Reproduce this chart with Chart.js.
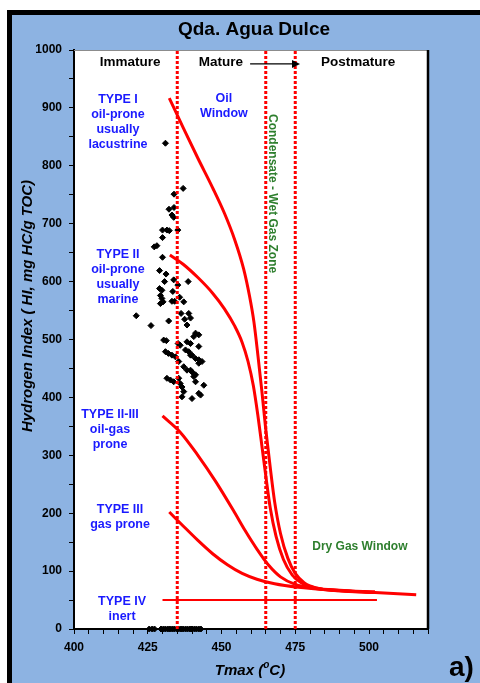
<!DOCTYPE html>
<html>
<head>
<meta charset="utf-8">
<script src="https://cdn.jsdelivr.net/npm/chart.js@4.4.1/dist/chart.umd.min.js"></script>
<style>
  html, body { margin: 0; padding: 0; background: #ffffff; }
  canvas { display: block; }
</style>
</head>
<body>
<canvas id="chart" width="480" height="683"></canvas>
<script>
const FONT = "'Liberation Sans', Arial, Helvetica, sans-serif";

// Axis ticks
const xTickLabels = [400, 425, 450, 475, 500];
const yTickLabels = [0, 100, 200, 300, 400, 500, 600, 700, 800, 900, 1000];

// Maturity boundaries (Tmax, °C)
const maturityLimits = [435, 465, 475];

// Kerogen type evolution paths: Tmax (°C) and HI (mg HC/g TOC)
const typeI_T   = [432.3, 437, 442, 447, 451, 454.5, 457.5, 459.5, 461, 462.4, 463.7, 465, 466.5, 468, 470, 472.5, 475, 478, 482, 490, 502, 516];
const typeI_HI  = [917, 866, 813, 762, 718, 672, 622, 575, 530, 470, 410, 345, 280, 220, 165, 122, 96, 80, 71, 66, 63, 59];
const typeII_T  = [432.5, 437, 442, 447, 451, 454.5, 457, 459, 460.8, 462.3, 463.6, 465, 466.5, 468.5, 471, 474, 477, 482, 490, 502];
const typeII_HI = [646, 630, 607, 580, 553, 523, 495, 462, 420, 370, 320, 265, 210, 160, 120, 93, 80, 71, 67, 64];
const typeIIIII_T  = [430, 436, 442, 448, 454, 458, 462, 466, 470, 475, 482, 490, 502];
const typeIIIII_HI = [368, 340, 300, 255, 205, 170, 138, 110, 90, 77, 70, 66, 64];
const typeIII_T  = [432.3, 437, 442, 447, 452, 457, 462, 468, 476, 488, 502];
const typeIII_HI = [202, 178, 153, 130, 111, 96, 86, 78, 72, 67, 63];
const typeIV_T  = [430, 502.7];
const typeIV_HI = [50, 50];

// Rock-Eval samples, Qda. Agua Dulce
const sampleTmax = [
  431, 437, 433.9, 432.2, 433.9, 433.2, 433.8, 435.2, 430, 431.5,
  432.3, 430, 427.2, 428.1, 430, 429, 431.2, 430.7, 433.8, 435.2,
  438.7, 429, 429.8, 429.3, 429.8, 430.2, 429.3, 433.5, 433.2, 434.1,
  435.8, 437.2, 421.1, 426.1, 432.1, 438.9, 439.5, 438.3, 436.3, 437.5,
  441.2, 442.3, 440.6, 438.3, 439.5, 430.4, 431.3, 435.3, 436, 442.3,
  431, 432, 433.2, 434.4, 437.8, 438.9, 439.5, 440, 441.2, 442.3,
  443.4, 442.3, 435.5, 437.2, 438.3, 439.5, 440, 441.2, 431.5, 432.7,
  433.8, 435.5, 436, 440.6, 441.2, 444, 436.6, 437.2, 436.6, 440,
  442.3, 442.9
];
const sampleHI = [
  839, 761, 751, 725, 728, 715, 711, 689, 689, 689,
  688, 676, 660, 662, 642, 619, 613, 600, 603, 594,
  600, 588, 585, 576, 571, 565, 562, 583, 566, 566,
  573, 565, 541, 524, 532, 545, 537, 525, 545, 535,
  511, 508, 505, 496, 493, 499, 498, 493, 490, 488,
  479, 476, 473, 470, 482, 479, 473, 473, 467, 465,
  462, 459, 462, 453, 447, 447, 444, 439, 433, 430,
  427, 433, 424, 436, 427, 421, 418, 410, 401, 398,
  407, 404
];
// Samples with no measurable HI
const zeroHiTmax = [425.5, 426.5, 427.3, 429.5, 430.3, 431, 431.8, 432.5, 433.3, 434,
  434.8, 435.5, 436.3, 437, 437.8, 438.5, 439.3, 440, 440.8, 441.5, 442.3, 443];

const pairs = (xs, ys) => xs.map((x, i) => ({ x: x, y: ys[i] }));

const RED = '#ff0000';
const BLUE_TXT = '#1a1aff';
const GREEN_TXT = '#2e7f2e';

function limitLine(t) {
  return {
    data: [{ x: t, y: 0 }, { x: t, y: 1000 }],
    showLine: true, borderColor: RED, borderWidth: 3, borderDash: [3, 2],
    pointRadius: 0, fill: false
  };
}
function pathLine(xs, ys, width) {
  return {
    data: pairs(xs, ys),
    showLine: true, borderColor: RED, borderWidth: width,
    cubicInterpolationMode: 'monotone', pointRadius: 0, fill: false,
    borderJoinStyle: 'round', borderCapStyle: 'butt'
  };
}

// Text placed in data coordinates (Tmax, HI)
const labels = [
  { lines: ['Immature'], x: 419, y: 979, color: '#000', size: 13.5 },
  { lines: ['Mature'], x: 449.8, y: 979, color: '#000', size: 13.5 },
  { lines: ['Postmature'], x: 496.3, y: 979, color: '#000', size: 13.5 },
  { lines: ['TYPE I', 'oil-prone', 'usually', 'lacustrine'], x: 414.9, y: 914, color: BLUE_TXT, size: 12.5 },
  { lines: ['Oil', 'Window'], x: 450.8, y: 917, color: BLUE_TXT, size: 12.5 },
  { lines: ['TYPE II', 'oil-prone', 'usually', 'marine'], x: 414.9, y: 646, color: BLUE_TXT, size: 12.5 },
  { lines: ['TYPE II-III', 'oil-gas', 'prone'], x: 412.2, y: 370, color: BLUE_TXT, size: 12.5 },
  { lines: ['TYPE III', 'gas prone'], x: 415.6, y: 206, color: BLUE_TXT, size: 12.5 },
  { lines: ['TYPE IV', 'inert'], x: 416.3, y: 48, color: BLUE_TXT, size: 12.5 },
  { lines: ['Dry Gas Window'], x: 496.9, y: 143, color: GREEN_TXT, size: 12 }
];

const decorations = {
  id: 'decorations',
  beforeDraw(chart) {
    const { ctx, chartArea: a, width, height } = chart;
    ctx.save();
    ctx.fillStyle = '#ffffff';
    ctx.fillRect(0, 0, width, height);
    ctx.fillStyle = '#000000';
    ctx.fillRect(7, 10, width, height);
    ctx.fillStyle = '#8db3e2';
    ctx.fillRect(12, 15, width, height);
    ctx.fillStyle = '#ffffff';
    ctx.fillRect(a.left, a.top, a.right - a.left, a.bottom - a.top);
    ctx.restore();
  },
  afterDatasetsDraw(chart) {
    const { ctx, chartArea: a } = chart;
    const sx = chart.scales.x, sy = chart.scales.y;
    ctx.save();
    // plot frame, top and right
    ctx.strokeStyle = '#8c8c8c';
    ctx.lineWidth = 1;
    ctx.beginPath();
    ctx.moveTo(a.left, a.top + 0.5);
    ctx.lineTo(a.right, a.top + 0.5);
    ctx.stroke();
    ctx.strokeStyle = '#000';
    ctx.lineWidth = 2.5;
    ctx.beginPath();
    ctx.moveTo(a.right, a.top);
    ctx.lineTo(a.right, a.bottom);
    ctx.stroke();

    // text labels
    ctx.textAlign = 'center';
    ctx.textBaseline = 'middle';
    labels.forEach(l => {
      ctx.fillStyle = l.color;
      ctx.font = 'bold ' + l.size + 'px ' + FONT;
      const px = sx.getPixelForValue(l.x);
      const py = sy.getPixelForValue(l.y);
      l.lines.forEach((s, i) => ctx.fillText(s, px, py + i * 15));
    });

    // arrow from mature to postmature
    const ax0 = sx.getPixelForValue(459.7), ax1 = sx.getPixelForValue(476.6);
    const ay = sy.getPixelForValue(976);
    ctx.strokeStyle = '#000';
    ctx.fillStyle = '#000';
    ctx.lineWidth = 1.2;
    ctx.beginPath();
    ctx.moveTo(ax0, ay);
    ctx.lineTo(ax1 - 6, ay);
    ctx.stroke();
    ctx.beginPath();
    ctx.moveTo(ax1, ay);
    ctx.lineTo(ax1 - 8, ay - 4);
    ctx.lineTo(ax1 - 8, ay + 4);
    ctx.closePath();
    ctx.fill();

    // vertical zone label
    ctx.save();
    ctx.translate(sx.getPixelForValue(467.3), sy.getPixelForValue(752));
    ctx.rotate(Math.PI / 2);
    ctx.fillStyle = GREEN_TXT;
    ctx.font = 'bold 12px ' + FONT;
    ctx.fillText('Condensate - Wet Gas Zone', 0, 0);
    ctx.restore();
    ctx.restore();
  },
  afterDraw(chart) {
    const { ctx } = chart;
    ctx.save();
    ctx.fillStyle = '#000';
    ctx.textAlign = 'center';
    ctx.textBaseline = 'middle';
    ctx.font = 'bold 19px ' + FONT;
    ctx.fillText('Qda. Agua Dulce', 254, 30);

    // y axis title
    ctx.save();
    ctx.translate(28, 306);
    ctx.rotate(-Math.PI / 2);
    ctx.font = 'italic bold 15px ' + FONT;
    ctx.fillText('Hydrogen Index ( HI, mg HC/g TOC)', 0, 0);
    ctx.restore();

    // x axis title with superscript degree mark
    const big = 'italic bold 15px ' + FONT, small = 'italic bold 10px ' + FONT;
    const p1 = 'Tmax (', p2 = 'o', p3 = 'C)';
    ctx.font = big; const w1 = ctx.measureText(p1).width, w3 = ctx.measureText(p3).width;
    ctx.font = small; const w2 = ctx.measureText(p2).width;
    let x0 = 250 - (w1 + w2 + w3) / 2;
    ctx.textAlign = 'left';
    ctx.textBaseline = 'alphabetic';
    ctx.font = big; ctx.fillText(p1, x0, 675);
    ctx.font = small; ctx.fillText(p2, x0 + w1, 668);
    ctx.font = big; ctx.fillText(p3, x0 + w1 + w2, 675);

    ctx.font = 'bold 28px ' + FONT;
    ctx.fillText('a)', 449, 676);
    ctx.restore();
  }
};

new Chart(document.getElementById('chart'), {
  type: 'scatter',
  data: {
    datasets: [
      ...maturityLimits.map(limitLine),
      pathLine(typeI_T, typeI_HI, 3),
      pathLine(typeII_T, typeII_HI, 3),
      pathLine(typeIIIII_T, typeIIIII_HI, 3),
      pathLine(typeIII_T, typeIII_HI, 3),
      pathLine(typeIV_T, typeIV_HI, 2),
      {
        data: pairs(sampleTmax, sampleHI),
        pointStyle: 'rectRot', pointRadius: 3, borderWidth: 1,
        backgroundColor: '#000', borderColor: '#000'
      },
      {
        data: zeroHiTmax.map(t => ({ x: t, y: 0 })),
        pointStyle: 'rectRot', pointRadius: 3, borderWidth: 1,
        backgroundColor: '#000', borderColor: '#000', clip: false
      }
    ]
  },
  options: {
    responsive: false,
    animation: false,
    events: [],
    layout: { padding: { top: 50, right: 52, left: 0, bottom: 0 } },
    plugins: { legend: { display: false }, tooltip: { enabled: false }, title: { display: false } },
    scales: {
      x: {
        type: 'linear', position: 'bottom', min: 400, max: 520,
        afterFit: s => { s.height = 54; },
        grid: { drawOnChartArea: false, drawTicks: true, tickLength: 5, color: '#000', lineWidth: 1 },
        border: { display: true, color: '#000', width: 2 },
        ticks: {
          stepSize: 5, autoSkip: false, maxRotation: 0, minRotation: 0, padding: 6,
          color: '#000', font: { family: FONT, size: 12, weight: 'bold' },
          callback: v => xTickLabels.includes(v) ? String(v) : ''
        }
      },
      y: {
        type: 'linear', position: 'left', min: 0, max: 1000,
        afterFit: s => { s.width = 74; },
        grid: { drawOnChartArea: false, drawTicks: true, tickLength: 5, color: '#000', lineWidth: 1 },
        border: { display: true, color: '#000', width: 2 },
        ticks: {
          stepSize: 50, autoSkip: false, padding: 7,
          color: '#000', font: { family: FONT, size: 12, weight: 'bold' },
          callback: v => yTickLabels.includes(v) ? String(v) : ''
        }
      }
    }
  },
  plugins: [decorations]
});
</script>
</body>
</html>
